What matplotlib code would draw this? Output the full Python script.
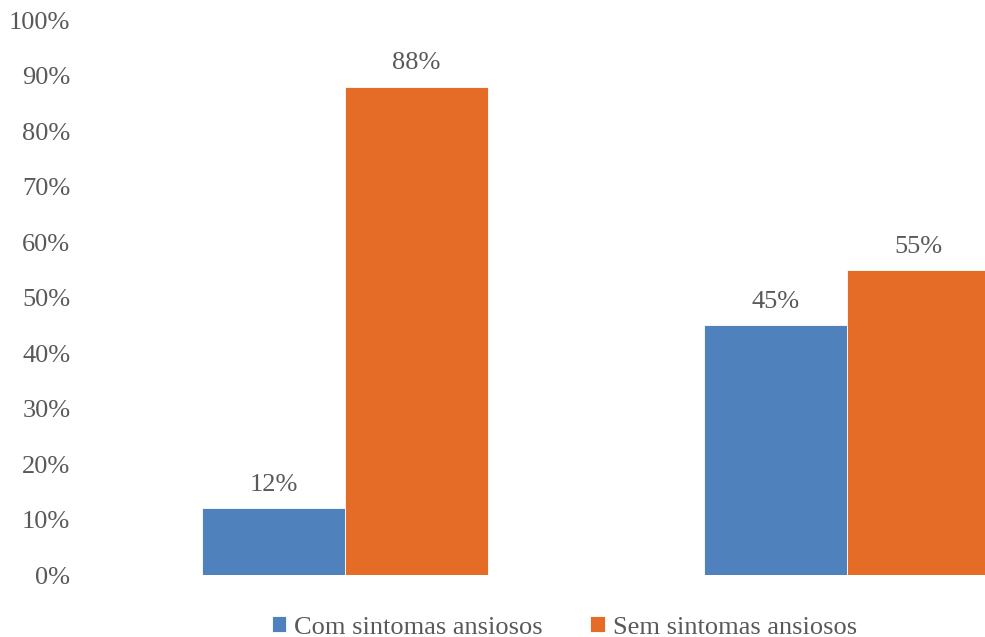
import matplotlib.pyplot as plt
import numpy as np

plt.rcParams['font.family'] = ['Liberation Serif', 'DejaVu Serif']

groups = ['Grupo 1', 'Grupo 2']
com_sintomas = [12, 45]
sem_sintomas = [88, 55]
series_names = ['Com sintomas ansiosos', 'Sem sintomas ansiosos']
colors = ['#4F81BD', '#E46C26']
text_color = '#595959'

fig = plt.figure(figsize=(9.85, 6.37), dpi=100)
ax = fig.add_axes([0.0954, 0.0973, 0.9046, 0.8713])

x = np.arange(len(groups))
w = 0.285
bars1 = ax.bar(x - w / 2, com_sintomas, w, color=colors[0], edgecolor='white',
               linewidth=0.6, label=series_names[0])
bars2 = ax.bar(x + w / 2, sem_sintomas, w, color=colors[1], edgecolor='white',
               linewidth=0.6, label=series_names[1])

for bars, vals in ((bars1, com_sintomas), (bars2, sem_sintomas)):
    for b, v in zip(bars, vals):
        ax.text(b.get_x() + b.get_width() / 2, v + 2.2, '{}%'.format(v),
                ha='center', va='bottom', fontsize=19, color=text_color)

ax.set_xlim(-0.5, 1.275)
ax.set_ylim(0, 100)
ax.set_yticks(np.arange(0, 101, 10))
ax.set_yticklabels(['{}%'.format(t) for t in range(0, 101, 10)])
ax.tick_params(axis='y', length=0, pad=17, labelsize=19, labelcolor=text_color)
ax.set_xticks([])
for s in ax.spines.values():
    s.set_visible(False)

fig.legend(loc='lower center', bbox_to_anchor=(0.573, -0.04), ncol=2, frameon=False,
           fontsize=19, labelcolor=text_color, handlelength=0.55, handleheight=0.55,
           handletextpad=0.3, columnspacing=1.8)

fig.savefig('out.png', dpi=100)
